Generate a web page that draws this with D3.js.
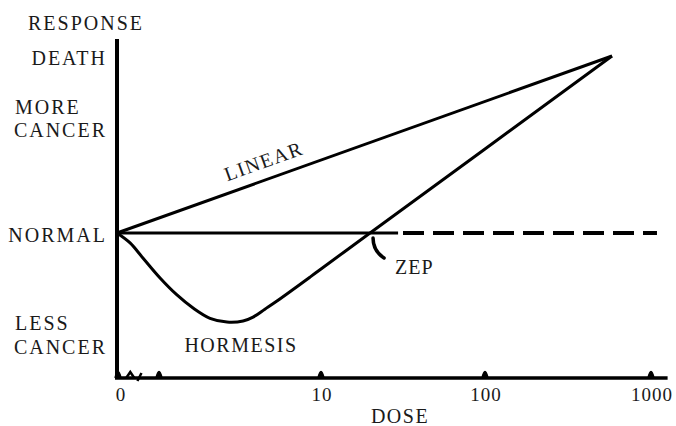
<!DOCTYPE html>
<html><head><meta charset="utf-8">
<script src="https://cdn.jsdelivr.net/npm/d3@7/dist/d3.min.js"></script>
<style>body{margin:0;background:#fff}svg{display:block}text{font-family:"Liberation Serif","Times New Roman",serif;fill:#1a1a1a}</style>
</head><body><svg id="c" width="676" height="426"></svg>
<script>
// dose axis positions (log decades), labels
const doseTickPos = [0, 1, 2, 3];
const doseTickLabels = ["0", "10", "100", "1000"];
const doseBumpPos = [0.005, 0.206, 1, 2, 3];
// response categories
const responseLabels = [["DEATH"], ["MORE", "CANCER"], ["NORMAL"], ["LESS", "CANCER"]];
const responseLevels = [0.986, 0.647, -0.01, -0.576];
// curves: [decade position, response]
const linearPts = [[0, 0], [2.765, 1]];
const normalSolid = [[0, 0], [1.47, 0]];
const normalDashed = [[1.5, 0], [3.036, 0]];
const hormesisCurve = [[0,0],[0.064,-0.056],[0.127,-0.141],[0.211,-0.254],[0.294,-0.35],[0.373,-0.424],[0.456,-0.482],[0.539,-0.503],[0.618,-0.497],[0.667,-0.475],[0.725,-0.43],[0.784,-0.384],[0.946,-0.249],[1.0,-0.203],[1.299,0]];
const hormesisRise = [[1.299,0],[2.0,0.475],[2.765,1]];

const svg = d3.select("#c");
const x = d3.scaleLinear().domain([0, 1, 2, 3]).range([117, 321, 485, 651]);
const y = d3.scaleLinear().domain([-0.819, 1.096]).range([378, 39]);
const line = d3.line().x(d => x(d[0])).y(d => y(d[1]));
const y0 = y(-0.819);

// axes
svg.append("line").attr("x1", x(0)).attr("x2", x(0)).attr("y1", y(1.096)).attr("y2", y0 + 1)
  .attr("stroke", "#000").attr("stroke-width", 4);
svg.append("line").attr("x1", x(0) - 2).attr("x2", x(3.1)).attr("y1", y0).attr("y2", y0)
  .attr("stroke", "#000").attr("stroke-width", 3.5);
// bumps
doseBumpPos.forEach(p => {
  svg.append("path").attr("d", `M${x(p)-3},${y0} Q${x(p)},${y0-13} ${x(p)+3},${y0}`)
    .attr("fill", "#000").attr("stroke", "#000").attr("stroke-width", 1.5);
});
// small break marks near origin
svg.append("path").attr("d", `M${x(0.045)},${y0} L${x(0.065)},${y0-6} L${x(0.085)},${y0} M${x(0.1)},${y0+3} L${x(0.12)},${y0-5}`)
  .attr("fill", "none").attr("stroke", "#000").attr("stroke-width", 2.5);

// tick labels
doseTickPos.forEach((p, i) => {
  svg.append("text").attr("x", x(p) + (i === 0 ? 4 : 1)).attr("y", 401).attr("text-anchor", "middle")
    .attr("font-size", 19).attr("letter-spacing", 1).text(doseTickLabels[i]);
});
svg.append("text").attr("x", 400).attr("y", 423).attr("text-anchor", "middle").attr("font-size", 20)
  .attr("letter-spacing", 1.5).text("DOSE");
svg.append("text").attr("x", 86).attr("y", 30).attr("text-anchor", "middle").attr("font-size", 20)
  .attr("letter-spacing", 2).text("RESPONSE");

// response labels
responseLabels.forEach((lines, i) => {
  const cy = y(responseLevels[i]);
  const n = lines.length;
  lines.forEach((t, j) => {
    const first = n > 1 && j === 0;
    svg.append("text").attr("x", first ? 15 : 107).attr("y", cy + 7 + (j - (n - 1) / 2) * 23.5)
      .attr("text-anchor", first ? "start" : "end").attr("font-size", 20).attr("letter-spacing", 2).text(t);
  });
});

// curves
svg.append("path").attr("d", line(linearPts)).attr("fill", "none").attr("stroke", "#000").attr("stroke-width", 3);
svg.append("path").attr("d", line(normalSolid)).attr("fill", "none").attr("stroke", "#000").attr("stroke-width", 3);
svg.append("path").attr("d", line(normalDashed)).attr("fill", "none").attr("stroke", "#000").attr("stroke-width", 4)
  .attr("stroke-dasharray", "21,9");
svg.append("path").attr("d", d3.line().x(d => x(d[0])).y(d => y(d[1])).curve(d3.curveCatmullRom.alpha(0.5))(hormesisCurve))
  .attr("fill", "none").attr("stroke", "#000").attr("stroke-width", 3).attr("stroke-linejoin", "round");
svg.append("path").attr("d", line(hormesisRise))
  .attr("fill", "none").attr("stroke", "#000").attr("stroke-width", 3).attr("stroke-linejoin", "round");

// ZEP pointer
const zx = x(1.299), zy = y(0);
svg.append("path").attr("d", `M${zx+3},${zy+5} Q${zx+3},${zy+18} ${zx+14},${zy+25}`)
  .attr("fill", "none").attr("stroke", "#000").attr("stroke-width", 3.5).attr("stroke-linecap", "round");
svg.append("text").attr("x", zx + 25).attr("y", zy + 41).attr("font-size", 20).attr("letter-spacing", 1).text("ZEP");

// curve labels
const lx = x(0.73), ly = y(0.37);
svg.append("text").attr("transform", `translate(${lx},${ly}) rotate(-19.7)`).attr("text-anchor", "middle")
  .attr("font-size", 20).attr("letter-spacing", 1.5).text("LINEAR");
svg.append("text").attr("x", 241).attr("y", 352).attr("text-anchor", "middle").attr("font-size", 20)
  .attr("letter-spacing", 1.5).text("HORMESIS");
</script></body></html>
